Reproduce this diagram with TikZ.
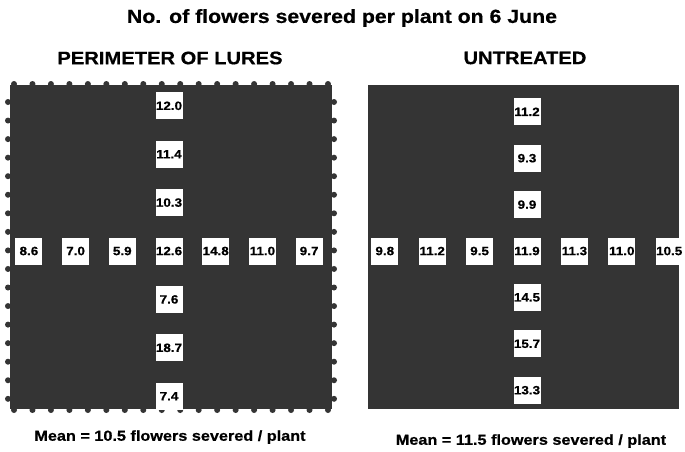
\documentclass[tikz,border=0pt]{standalone}
\usepackage{fontspec}
\setmainfont{Liberation Sans}[FakeStretch=1.12,BoldFeatures={FakeBold=0.6}]
\usepackage{xcolor}
\usepackage{tikz}
\usetikzlibrary{positioning}
\definecolor{field}{RGB}{52,52,52}

\begin{document}
\begin{tikzpicture}[x=1pt,y=-1pt,
  cell/.style={fill=white,minimum width=27pt,minimum height=27pt,inner sep=0pt,
    font=\bfseries\fontsize{12}{12}\selectfont,text=black},
  head/.style={font=\bfseries\fontsize{18}{20}\selectfont,text=black},
  mean/.style={font=\bfseries\fontsize{14.5}{16}\selectfont,text=black},
  lure/.style={fill=field}]
  \useasboundingbox[fill=white] (0,0) rectangle (685,451);
  % plots
  \fill[field] (10,85) rectangle (332,409);
  \fill[field] (368,85) rectangle (679,409);
  % lures round the treated plot
  \foreach \i in {0,...,17} {
    \fill[lure] (14+18.47*\i,84) circle (3);
    \fill[lure] (14+18.47*\i,410) circle (3);
  }
  \foreach \i in {0,...,16} {
    \fill[lure] (8,102+18.55*\i) circle (3);
    \fill[lure] (334,102+18.55*\i) circle (3);
  }
  % titles
  \node[font=\bfseries\fontsize{19}{21}\selectfont,text=black] (title) at (342,18) {No. of flowers severed per plant on 6 June};
  \node[head] (lhead) at (170,58) {PERIMETER OF LURES};
  \node[head] (rhead) at (525,58) {UNTREATED};
  % perimeter of lures
  \node[cell] (lc) at (169,251) {12.6};
  \node[cell,above=21pt of lc] (lu1) {10.3};
  \node[cell,above=21pt of lu1] (lu2) {11.4};
  \node[cell,above=21pt of lu2] (lu3) {12.0};
  \node[cell,below=21pt of lc] (ld1) {7.6};
  \node[cell,below=21pt of ld1] (ld2) {18.7};
  \node[cell,below=21pt of ld2] (ld3) {7.4};
  \node[cell,left=19.3pt of lc] (ll1) {5.9};
  \node[cell,left=19.3pt of ll1] (ll2) {7.0};
  \node[cell,left=19.3pt of ll2] (ll3) {8.6};
  \node[cell,right=19.3pt of lc] (lr1) {14.8};
  \node[cell,right=19.3pt of lr1] (lr2) {11.0};
  \node[cell,right=19.3pt of lr2] (lr3) {9.7};
  % untreated
  \node[cell] (rc) at (527,251) {11.9};
  \node[cell,above=19pt of rc] (ru1) {9.9};
  \node[cell,above=19pt of ru1] (ru2) {9.3};
  \node[cell,above=19pt of ru2] (ru3) {11.2};
  \node[cell,below=19pt of rc] (rd1) {14.5};
  \node[cell,below=19pt of rd1] (rd2) {15.7};
  \node[cell,below=19pt of rd2] (rd3) {13.3};
  \node[cell,left=20pt of rc] (rl1) {9.5};
  \node[cell,left=20pt of rl1] (rl2) {11.2};
  \node[cell,left=20pt of rl2] (rl3) {9.8};
  \node[cell,right=20pt of rc] (rr1) {11.3};
  \node[cell,right=20pt of rr1] (rr2) {11.0};
  \node[cell,right=20pt of rr2] (rr3) {10.5};
  % means
  \node[mean] (lmean) at (170,437) {Mean = 10.5 flowers severed / plant};
  \node[mean] (rmean) at (531,441) {Mean = 11.5 flowers severed / plant};
\end{tikzpicture}
\end{document}
